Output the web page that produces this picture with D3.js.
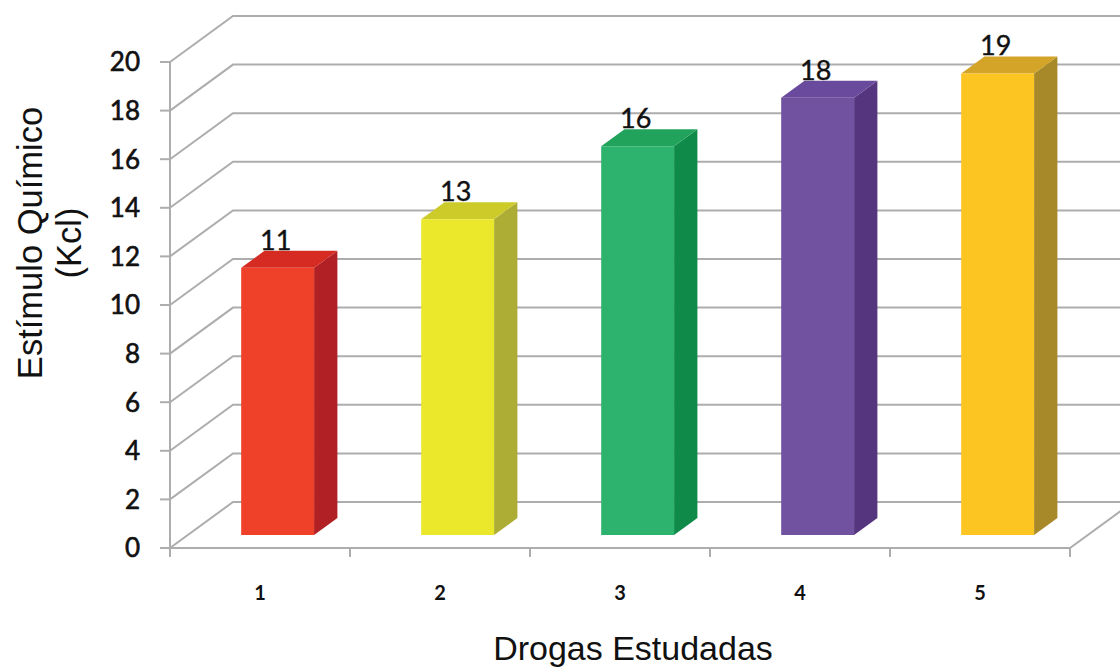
<!DOCTYPE html>
<html>
<head>
<meta charset="utf-8">
<script src="https://cdn.jsdelivr.net/npm/d3@7"></script>
<style>
  html, body { margin: 0; padding: 0; background: #ffffff; }
  svg { display: block; }
</style>
</head>
<body>
<svg id="chart" width="1120" height="668"></svg>
<script>
// Drug categories and their measured chemical-stimulus values
const categories = ["1", "2", "3", "4", "5"];
const values = [11, 13, 16, 18, 19];
const yTicks = [0, 2, 4, 6, 8, 10, 12, 14, 16, 18, 20];

// Face colours for each bar: front, side, top
const frontColors = ["#ef4129", "#ebe82b", "#2db36e", "#7052a0", "#fcc521"];
const sideColors  = ["#b02024", "#adad35", "#0f8a48", "#56357f", "#a8892a"];
const topColors   = ["#d52b23", "#cccb2a", "#22a35c", "#6a4a9c", "#d4a428"];

const svg = d3.select("#chart");

// Front plane of the 3D frame
const x = d3.scaleBand().domain(categories).range([170, 1070]).padding(0);
const y = d3.scaleLinear().domain([0, 20]).range([548, 62]);

// Depth direction of the frame (full depth) and bar position within it
const DX = 63, DY = -46;
const dFront = 0.28, dBack = 0.65;
const barFrac = 0.405;

const numFont = "Lato, 'Open Sans', sans-serif";
const gridColor = "#adadad";
const grid = svg.append("g")
  .attr("fill", "none")
  .attr("stroke", gridColor)
  .attr("stroke-width", 2);

// Left wall diagonals and back wall horizontal gridlines
yTicks.forEach(t => {
  const y0 = y(t);
  grid.append("path")
    .attr("d", `M${x.range()[0]},${y0}L${x.range()[0] + DX},${y0 + DY}L${x.range()[1] + DX},${y0 + DY}`);
});

// Floor front edge and right edge
grid.append("path")
  .attr("d", `M${x.range()[0]},${y(0)}L${x.range()[1]},${y(0)}L${x.range()[1] + DX},${y(0) + DY}`);

// Vertical value axis with tick marks
const axisG = svg.append("g").attr("stroke", gridColor).attr("stroke-width", 2);
axisG.append("line")
  .attr("x1", 170).attr("x2", 170)
  .attr("y1", y(20)).attr("y2", y(0) + 9);
axisG.selectAll("line.ytick").data(yTicks).join("line")
  .attr("class", "ytick")
  .attr("x1", 160).attr("x2", 170)
  .attr("y1", d => y(d)).attr("y2", d => y(d));

// Category boundary tick marks on the floor edge
const bounds = categories.map(c => x(c)).concat([x.range()[1]]);
axisG.selectAll("line.xtick").data(bounds).join("line")
  .attr("class", "xtick")
  .attr("x1", d => d).attr("x2", d => d)
  .attr("y1", y(0)).attr("y2", y(0) + 9);

// Value tick labels
svg.append("g")
  .selectAll("text").data(yTicks).join("text")
  .attr("x", 140)
  .attr("y", d => y(d))
  .attr("dy", "0.36em")
  .attr("text-anchor", "end")
  .attr("font-family", numFont)
  .attr("font-size", 26)
  .attr("fill", "#111")
  .attr("stroke", "#111")
  .attr("stroke-width", 0.6)
  .text(d => d);

// Category tick labels
svg.append("g")
  .selectAll("text").data(categories).join("text")
  .attr("x", d => x(d) + x.bandwidth() / 2)
  .attr("y", 600)
  .attr("text-anchor", "middle")
  .attr("font-family", numFont)
  .attr("font-weight", "bold")
  .attr("font-size", 20)
  .attr("fill", "#111")
  .text(d => d);

// 3D bars: front face, right side, top
const pt = (px, py, depth) => [px + DX * depth, py + DY * depth];
const poly = pts => "M" + pts.map(p => p.join(",")).join("L") + "Z";

const bars = svg.append("g").selectAll("g").data(categories).join("g");
bars.each(function (c, i) {
  const g = d3.select(this);
  const cx = x(c) + x.bandwidth() / 2;
  const w = x.bandwidth() * barFrac;
  const x0 = cx - w / 2, x1 = cx + w / 2;
  const yb = y(0), yt = y(values[i]);

  const front = [pt(x0, yb, dFront), pt(x1, yb, dFront), pt(x1, yt, dFront), pt(x0, yt, dFront)];
  const side  = [pt(x1, yb, dFront), pt(x1, yb, dBack), pt(x1, yt, dBack), pt(x1, yt, dFront)];
  const top   = [pt(x0, yt, dFront), pt(x1, yt, dFront), pt(x1, yt, dBack), pt(x0, yt, dBack)];

  g.append("path").attr("d", poly(side)).attr("fill", sideColors[i]);
  g.append("path").attr("d", poly(top)).attr("fill", topColors[i]);
  g.append("path").attr("d", poly(front)).attr("fill", frontColors[i]);

  // Value label above the bar
  const lab = pt(cx - 2, yt, dBack);
  g.append("text")
    .attr("x", lab[0] - DX * (dBack - dFront))
    .attr("y", lab[1] - 1)
    .attr("text-anchor", "middle")
    .attr("font-family", numFont)
    .attr("font-size", 27)
    .attr("fill", "#111")
    .attr("stroke", "#111")
    .attr("stroke-width", 0.4)
    .text(values[i]);
});

// Axis titles
svg.append("text")
  .attr("x", 633)
  .attr("y", 660)
  .attr("text-anchor", "middle")
  .attr("font-family", "'Liberation Sans', Arial, sans-serif")
  .attr("font-size", 34)
  .attr("fill", "#111")
  .text("Drogas Estudadas");

const yTitle = svg.append("g")
  .attr("transform", "translate(0,243) rotate(-90)")
  .attr("font-family", "'Liberation Sans', Arial, sans-serif")
  .attr("font-size", 34.5)
  .attr("fill", "#111")
  .attr("text-anchor", "middle");
yTitle.append("text").attr("x", 0).attr("y", 42).text("Estímulo Químico");
yTitle.append("text").attr("x", 0).attr("y", 81).text("(Kcl)");
</script>
</body>
</html>
